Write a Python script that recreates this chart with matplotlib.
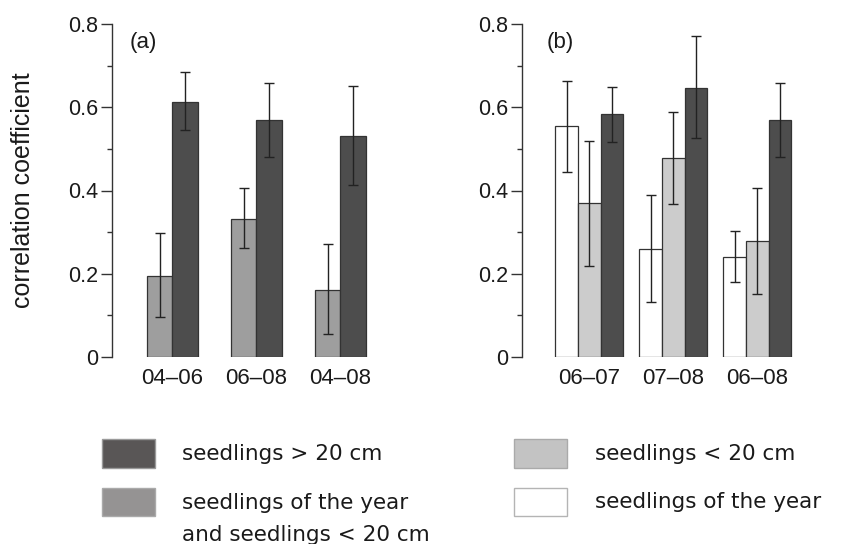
import matplotlib
matplotlib.use("Agg")
import matplotlib.pyplot as plt
import numpy as np
from matplotlib.patches import Rectangle

# ---- data -------------------------------------------------------------
periods_a = ["04\u201306", "06\u201308", "04\u201308"]
combined_a = [0.195, 0.332, 0.161]          # seedlings of the year + < 20 cm
combined_a_lo = [0.095, 0.261, 0.055]
combined_a_hi = [0.297, 0.405, 0.271]
tall_a = [0.613, 0.569, 0.531]              # seedlings > 20 cm
tall_a_lo = [0.545, 0.481, 0.413]
tall_a_hi = [0.684, 0.659, 0.650]

periods_b = ["06\u201307", "07\u201308", "06\u201308"]
year_b = [0.554, 0.259, 0.241]              # seedlings of the year
year_b_lo = [0.444, 0.133, 0.179]
year_b_hi = [0.664, 0.388, 0.303]
small_b = [0.369, 0.477, 0.279]             # seedlings < 20 cm
small_b_lo = [0.218, 0.367, 0.152]
small_b_hi = [0.519, 0.588, 0.406]
tall_b = [0.583, 0.647, 0.569]              # seedlings > 20 cm
tall_b_lo = [0.517, 0.525, 0.481]
tall_b_hi = [0.648, 0.770, 0.659]

legend_labels = ["seedlings > 20 cm",
                 "seedlings of the year\nand seedlings < 20 cm",
                 "seedlings < 20 cm",
                 "seedlings of the year"]

# ---- style ------------------------------------------------------------
FONT = "Liberation Sans"
plt.rcParams["font.family"] = [FONT, "DejaVu Sans"]
C_DARK = "#4d4d4d"
C_MID = "#9e9e9e"
C_LIGHT = "#cccccc"
C_WHITE = "#ffffff"
EDGE = "#333333"
TXT = "#1a1a1a"

W, H = 843, 544
fig = plt.figure(figsize=(W / 100, H / 100), dpi=100)


def fx(px):
    return px / W


def fy(py):
    return 1 - py / H


def make_axes(left_px, xlim):
    span = xlim[1] - xlim[0]
    width_px = span * 84.0
    ax = fig.add_axes([fx(left_px), fy(357), width_px / W, (357 - 24) / H])
    ax.set_xlim(*xlim)
    ax.set_ylim(0, 0.8)
    for s in ("top", "right", "bottom"):
        ax.spines[s].set_visible(False)
    ax.spines["left"].set_color(EDGE)
    ax.spines["left"].set_linewidth(1.0)
    ax.spines["left"].set_bounds(0, 0.8)
    ax.set_yticks([0, 0.2, 0.4, 0.6, 0.8])
    ax.set_yticklabels(["0", "0.2", "0.4", "0.6", "0.8"])
    ax.set_yticks([0.1, 0.3, 0.5, 0.7], minor=True)
    ax.tick_params(axis="y", which="major", length=8, width=1.0, color=EDGE,
                   labelsize=15.5, labelcolor=TXT, pad=2)
    ax.tick_params(axis="y", which="minor", length=3.5, width=1.0, color=EDGE)
    ax.tick_params(axis="x", length=0, labelsize=16, labelcolor=TXT, pad=8)
    return ax


def bars(ax, x, vals, lo, hi, w, color):
    vals = np.asarray(vals)
    yerr = np.vstack([vals - np.asarray(lo), np.asarray(hi) - vals])
    ax.bar(x, vals, width=w, color=color, edgecolor=EDGE, linewidth=0.9,
           yerr=yerr, error_kw=dict(ecolor="#222222", elinewidth=1.0,
                                    capsize=3.8, capthick=1.0), zorder=2)


# ---- panel (a) --------------------------------------------------------
ax_a = make_axes(112, (-0.72, 2.4))
xa = np.arange(len(periods_a))
wa = 0.305
bars(ax_a, xa - wa / 2, combined_a, combined_a_lo, combined_a_hi, wa, C_MID)
bars(ax_a, xa + wa / 2, tall_a, tall_a_lo, tall_a_hi, wa, C_DARK)
ax_a.set_xticks(xa)
ax_a.set_xticklabels(periods_a)
ax_a.text(-0.505, 0.755, "(a)", fontsize=16, color=TXT, ha="left", va="center")

# ---- panel (b) --------------------------------------------------------
ax_b = make_axes(522, (-0.80, 2.5))
xb = np.arange(len(periods_b))
wb = 0.27
bars(ax_b, xb - wb, year_b, year_b_lo, year_b_hi, wb, C_WHITE)
bars(ax_b, xb, small_b, small_b_lo, small_b_hi, wb, C_LIGHT)
bars(ax_b, xb + wb, tall_b, tall_b_lo, tall_b_hi, wb, C_DARK)
ax_b.set_xticks(xb)
ax_b.set_xticklabels(periods_b)
ax_b.text(-0.505, 0.755, "(b)", fontsize=16, color=TXT, ha="left", va="center")

# shared y label
fig.text(fx(23), fy(190), "correlation coefficient", rotation=90,
         fontsize=18, color=TXT, ha="center", va="center")

# ---- legend -----------------------------------------------------------
legend_colors = ["#595656", "#959393", "#c3c3c3", "#ffffff"]
legend_edges = ["#9a9a9a", "#aaaaaa", "#aaaaaa", "#b4b4b4"]
patch_pos = [(102, 439), (102, 487.5), (514, 439), (514, 487.5)]
# baseline of the last line of each label
text_pos = [(182, 460), (182, 540.7), (595, 460), (595, 508.5)]
for lab, col, ec, (px, py), (tx, ty) in zip(legend_labels, legend_colors,
                                              legend_edges, patch_pos, text_pos):
    fig.add_artist(Rectangle((fx(px), fy(py + 28.5)), 53 / W, 28.5 / H,
                             transform=fig.transFigure, facecolor=col,
                             edgecolor=ec, linewidth=1.0))
    fig.text(fx(tx), fy(ty), lab, fontsize=15.5, family=["DejaVu Sans"],
             color=TXT, ha="left", va="baseline", linespacing=1.75)

fig.savefig("out.png", dpi=100)
